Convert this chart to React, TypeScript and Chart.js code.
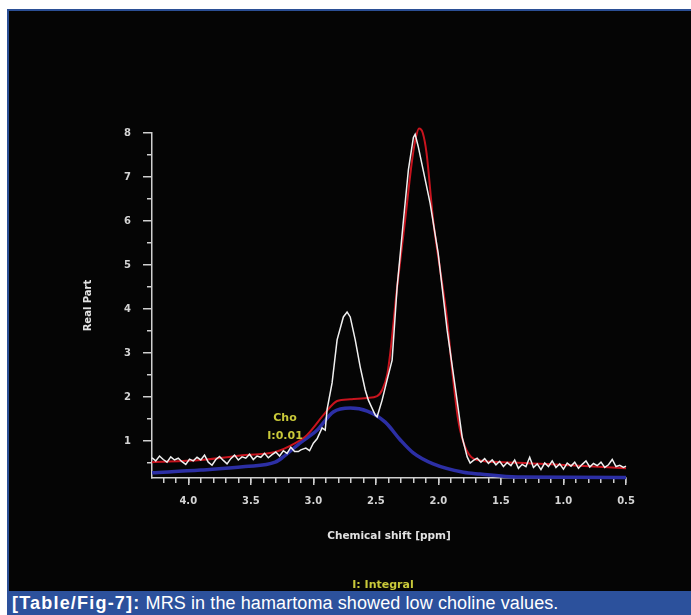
import React, { useEffect, useRef } from "react";
import { Chart, registerables } from "chart.js";

Chart.register(...registerables);

// ---- data (chemical shift in ppm, real part) ----
const whitePpm = [
  4.29, 4.26, 4.23, 4.2, 4.17, 4.14, 4.11, 4.08, 4.05, 4.02, 3.99, 3.96, 3.93,
  3.9, 3.87, 3.84, 3.81, 3.78, 3.75, 3.72, 3.69, 3.66, 3.63, 3.6, 3.57, 3.54,
  3.51, 3.48, 3.45, 3.42, 3.39, 3.36, 3.33, 3.3, 3.27, 3.24, 3.21, 3.18, 3.15,
  3.12, 3.1, 3.06, 3.03, 3.0, 2.97, 2.93, 2.905, 2.89, 2.85, 2.81, 2.76, 2.73,
  2.705, 2.665, 2.625, 2.585, 2.56, 2.505, 2.49, 2.45, 2.41, 2.37, 2.33, 2.28,
  2.24, 2.2, 2.186, 2.162, 2.122, 2.066, 2.002, 1.93, 1.866, 1.81, 1.77, 1.746,
  1.72, 1.69, 1.66, 1.63, 1.6, 1.57, 1.54, 1.51, 1.48, 1.45, 1.42, 1.39, 1.36,
  1.33, 1.3, 1.27, 1.24, 1.21, 1.18, 1.15, 1.12, 1.09, 1.06, 1.03, 1.0, 0.97,
  0.94, 0.91, 0.88, 0.85, 0.82, 0.79, 0.76, 0.73, 0.7, 0.67, 0.64, 0.61, 0.58,
  0.55, 0.52, 0.5,
];
const whiteVal = [
  0.62, 0.55, 0.66, 0.58, 0.52, 0.64, 0.57, 0.61, 0.53, 0.47, 0.59, 0.55, 0.63,
  0.57, 0.68, 0.52, 0.45, 0.58, 0.65, 0.56, 0.48, 0.6, 0.68, 0.57, 0.64, 0.61,
  0.7, 0.58, 0.66, 0.63, 0.72, 0.62, 0.69, 0.75, 0.66, 0.78, 0.72, 0.86, 0.76,
  0.76, 0.8, 0.84, 0.78, 0.95, 1.05, 1.3, 1.25, 1.72, 2.32, 3.3, 3.82, 3.93,
  3.82, 3.3, 2.68, 2.16, 1.93, 1.59, 1.55, 1.93, 2.39, 2.84, 4.5, 6.0,
  7.16, 7.9, 7.97, 7.7, 7.16, 6.4, 5.27, 3.52, 2.23, 1.09, 0.64, 0.5,
  0.56, 0.61, 0.52, 0.6, 0.49, 0.57, 0.46, 0.54, 0.42, 0.51, 0.44, 0.57, 0.38,
  0.47, 0.42, 0.63, 0.4, 0.48, 0.35, 0.5, 0.42, 0.55, 0.4, 0.48, 0.36, 0.5,
  0.43, 0.52, 0.38, 0.47, 0.55, 0.41, 0.49, 0.44, 0.52, 0.4, 0.46, 0.58, 0.42,
  0.45, 0.4, 0.43,
];

const redPpm = [
  4.29, 3.9, 3.545, 3.305, 3.145, 3.05, 2.905, 2.81, 2.705, 2.57, 2.49, 2.45,
  2.41, 2.385, 2.33, 2.266, 2.21, 2.18, 2.155, 2.125, 2.095, 2.042, 1.986,
  1.93, 1.89, 1.842, 1.786, 1.69, 1.48, 0.947, 0.5,
];
const redVal = [
  0.52, 0.57, 0.68, 0.75, 0.95, 1.14, 1.64, 1.91, 1.95, 1.98, 2.02, 2.16,
  2.5, 3.0, 4.5, 6.02, 7.39, 7.9, 8.1, 8.0, 7.55, 6.02, 4.89,
  3.75, 2.61, 1.48, 0.86, 0.57, 0.52, 0.45, 0.38,
];

const bluePpm = [
  4.29, 3.9, 3.545, 3.305, 3.24, 3.105, 2.969, 2.841, 2.705, 2.569, 2.425,
  2.306, 2.201, 2.042, 1.8, 1.666, 1.37, 0.5,
];
const blueVal = [
  0.28, 0.34, 0.42, 0.52, 0.64, 0.96, 1.25, 1.66, 1.75, 1.68, 1.43,
  1.03, 0.73, 0.48, 0.29, 0.25, 0.18, 0.17,
];

// ---- ticks ----
const xMajorTicks = [4.0, 3.5, 3.0, 2.5, 2.0, 1.5, 1.0, 0.5];
const xMinorTicks = [
  4.2, 4.1, 4.0, 3.9, 3.8, 3.7, 3.6, 3.5, 3.4, 3.3, 3.2, 3.1, 3.0, 2.9, 2.8,
  2.7, 2.6, 2.5, 2.4, 2.3, 2.2, 2.1, 2.0, 1.9, 1.8, 1.7, 1.6, 1.5, 1.4, 1.3,
  1.2, 1.1, 1.0, 0.9, 0.8, 0.7, 0.6, 0.5,
];
const yMajorTicks = [1, 2, 3, 4, 5, 6, 7, 8];
const yMinorTicks = [0.5, 1.5, 2.5, 3.5, 4.5, 5.5, 6.5, 7.5];

const X_MIN = 0.5;
const X_MAX = 4.29;
const Y_MIN = 0.16;
const Y_MAX = 8;

const axisColor = "#cfcfcf";
const fontFamily = '"DejaVu Sans", sans-serif';

function pts(xs: number[], ys: number[]) {
  return xs.map((x, i) => ({ x, y: ys[i] }));
}

export default function App() {
  const ref = useRef<HTMLCanvasElement | null>(null);

  useEffect(() => {
    if (!ref.current) return;
    const tickFont = { family: fontFamily, size: 10, weight: "bold" as const };
    const chart = new Chart(ref.current, {
      type: "line",
      data: {
        datasets: [
          {
            label: "Spectrum",
            data: pts(whitePpm, whiteVal),
            borderColor: "#f0f0f0",
            borderWidth: 1.5,
            pointRadius: 0,
            tension: 0,
            xAxisID: "x",
            yAxisID: "y",
            order: 0,
            clip: false as any,
          },
          {
            label: "Fit",
            data: pts(redPpm, redVal),
            borderColor: "#c8141e",
            borderWidth: 2,
            pointRadius: 0,
            cubicInterpolationMode: "monotone",
            xAxisID: "x",
            yAxisID: "y",
            order: 1,
            clip: false as any,
          },
          {
            label: "Cho",
            data: pts(bluePpm, blueVal),
            borderColor: "#2c2fa5",
            borderWidth: 3.5,
            pointRadius: 0,
            cubicInterpolationMode: "monotone",
            xAxisID: "x",
            yAxisID: "y",
            order: 2,
            clip: false as any,
          },
        ],
      },
      options: {
        responsive: false,
        animation: false,
        devicePixelRatio: 1,
        layout: { padding: { left: 73, right: 65, top: 122, bottom: 48 } },
        plugins: { legend: { display: false }, tooltip: { enabled: false } },
        scales: {
          x: {
            type: "linear",
            position: "bottom",
            reverse: true,
            min: X_MIN,
            max: X_MAX,
            weight: 1,
            afterBuildTicks: (s: any) => {
              s.ticks = xMajorTicks.map((v) => ({ value: v }));
            },
            afterFit: (s: any) => {
              s.height = 65;
            },
            ticks: {
              color: "#d4d4d4",
              font: tickFont,
              padding: 10,
              maxRotation: 0,
              autoSkip: false,
              callback: (v: any) => Number(v).toFixed(1),
            },
            grid: {
              drawOnChartArea: false,
              drawTicks: true,
              tickLength: 7,
              color: axisColor,
              lineWidth: 1.5,
            },
            border: { display: true, color: axisColor, width: 1.5 },
            title: {
              display: true,
              text: "Chemical shift [ppm]",
              color: "#e2e2e2",
              font: { family: fontFamily, size: 10.5, weight: "bold" },
              padding: 0,
            },
          },
          xMinor: {
            type: "linear",
            position: "bottom",
            reverse: true,
            min: X_MIN,
            max: X_MAX,
            weight: 0,
            afterBuildTicks: (s: any) => {
              s.ticks = xMinorTicks.map((v) => ({ value: v }));
            },
            afterFit: (s: any) => {
              s.height = 0;
            },
            ticks: { display: false },
            grid: {
              drawOnChartArea: false,
              drawTicks: true,
              tickLength: 5,
              color: axisColor,
              lineWidth: 1.5,
            },
            border: { display: false },
          },
          y: {
            type: "linear",
            position: "left",
            min: Y_MIN,
            max: Y_MAX,
            weight: 1,
            afterBuildTicks: (s: any) => {
              s.ticks = yMajorTicks.map((v) => ({ value: v }));
            },
            afterFit: (s: any) => {
              s.width = 70;
            },
            ticks: {
              color: "#d4d4d4",
              font: tickFont,
              padding: 12,
              autoSkip: false,
              callback: (v: any) => String(v),
            },
            grid: {
              drawOnChartArea: false,
              drawTicks: true,
              tickLength: 9,
              color: axisColor,
              lineWidth: 1.5,
            },
            border: { display: true, color: axisColor, width: 1.5 },
            title: {
              display: true,
              text: "Real Part",
              color: "#e2e2e2",
              font: { family: fontFamily, size: 10, weight: "bold" },
              padding: 0,
            },
          },
          yMinor: {
            type: "linear",
            position: "left",
            min: Y_MIN,
            max: Y_MAX,
            weight: 0,
            afterBuildTicks: (s: any) => {
              s.ticks = yMinorTicks.map((v) => ({ value: v }));
            },
            afterFit: (s: any) => {
              s.width = 0;
            },
            ticks: { display: false },
            grid: {
              drawOnChartArea: false,
              drawTicks: true,
              tickLength: 5,
              color: axisColor,
              lineWidth: 1.5,
            },
            border: { display: false },
          },
        },
      } as any,
    });
    return () => chart.destroy();
  }, []);

  const ann: React.CSSProperties = {
    position: "absolute",
    transform: "translate(-50%, -50%)",
    fontFamily,
    fontWeight: "bold",
    fontSize: 11,
    lineHeight: 1,
    color: "#c9c93a",
    whiteSpace: "nowrap",
  };

  return (
    <div
      style={{
        position: "absolute",
        left: 0,
        top: 0,
        width: 691,
        height: 615,
        background: "#ffffff",
        overflow: "hidden",
      }}
    >
      <div
        style={{
          position: "absolute",
          left: 7,
          top: 9,
          width: 684,
          height: 582,
          background: "#050505",
          borderTop: "2px solid #2b4f95",
          borderLeft: "2px solid #2b4f95",
          boxSizing: "border-box",
        }}
      />
      <canvas
        ref={ref}
        width={682}
        height={580}
        style={{ position: "absolute", left: 9, top: 11, width: 682, height: 580 }}
      />
      <div style={{ ...ann, left: 285, top: 417 }}>Cho</div>
      <div style={{ ...ann, left: 285, top: 435 }}>I:0.01</div>
      <div style={{ ...ann, left: 383, top: 584 }}>I: Integral</div>
      <div
        style={{
          position: "absolute",
          left: 7,
          top: 591,
          width: 684,
          height: 24,
          background: "#2c519c",
          color: "#ffffff",
          fontFamily: '"Liberation Sans", Arial, sans-serif',
          fontSize: 18,
          lineHeight: "24px",
          paddingLeft: 5,
          boxSizing: "border-box",
          whiteSpace: "nowrap",
        }}
      >
        <span style={{ fontWeight: "bold", letterSpacing: 1.2 }}>[Table/Fig-7]:</span>
        <span style={{ letterSpacing: 0.1 }}> MRS in the hamartoma showed low choline values.</span>
      </div>
    </div>
  );
}
